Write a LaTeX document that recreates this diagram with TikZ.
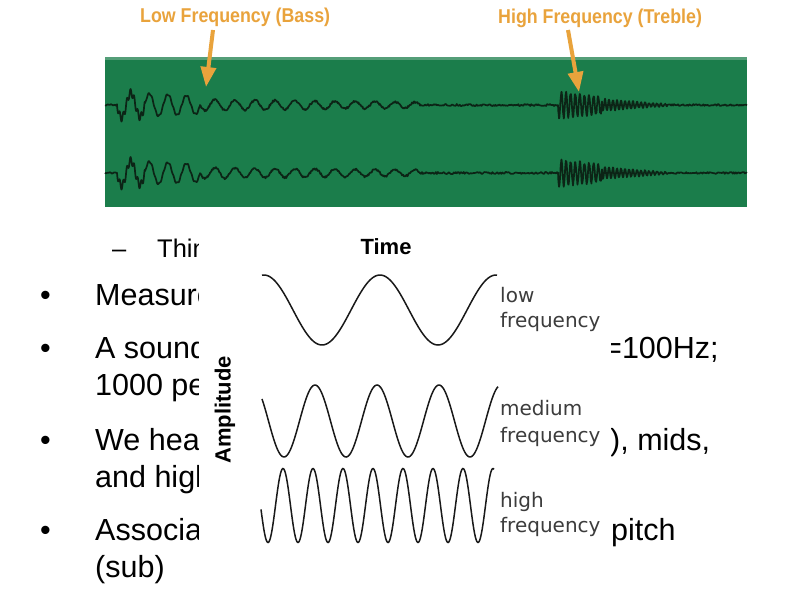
\documentclass[tikz,border=0pt]{standalone}
\usepackage{fontspec}
\setmainfont{Liberation Sans}
\newfontfamily\lblfont[FakeStretch=0.89]{Liberation Sans}
\newfontfamily\djv{DejaVu Sans}
\usetikzlibrary{arrows.meta}
\definecolor{bggreen}{RGB}{27,125,75}
\definecolor{wavecol}{RGB}{12,36,22}
\definecolor{lblorange}{RGB}{233,163,60}
\definecolor{sinecol}{RGB}{25,25,25}
\definecolor{capgray}{RGB}{60,60,60}
\begin{document}
\begin{tikzpicture}[x=1pt,y=-1pt,
 bodytext/.style={anchor=base west, inner sep=0pt, font=\fontsize{30.5}{37}\selectfont},
 subtext/.style={anchor=base west, inner sep=0pt, font=\fontsize{25.5}{30}\selectfont},
 toplabel/.style={anchor=base west, inner sep=0pt, text=lblorange, font=\lblfont\bfseries\fontsize{20}{24}\selectfont},
 pointer/.style={draw=lblorange, line width=4pt, -{Triangle[width=15pt,length=20pt]}},
 wavetrace/.style={draw=wavecol, line width=1.7pt, line join=round},
 sine/.style={draw=sinecol, line width=1.5pt},
 wavelbl/.style={anchor=base west, inner sep=0pt, text=capgray, font=\djv\fontsize{20}{24}\selectfont},
 axislbl/.style={inner sep=0pt, font=\bfseries\fontsize{22}{26}\selectfont}]
\useasboundingbox (0,0) rectangle (794,595);
\fill[white] (0,0) rectangle (794,595);
\pgfmathsetseed{3}

% top labels and pointers
\node[toplabel] (lowlbl) at (140,22) {Low Frequency (Bass)};
\node[toplabel] (highlbl) at (498,23) {High Frequency (Treble)};

% green recording panel
\fill[bggreen] (105,57) rectangle (747,207);
\fill[bggreen!75!white] (105,57) rectangle (747,59.5);

\foreach \yy in {105,173}{
 \draw[wavetrace] plot[domain=105:117,samples=13] (\x,{\yy+0.8*rand})
 -- plot[domain=117:200,samples=220] (\x,{\yy+(13-0.05*(\x-117))*sin((\x-117)/18.5*360)+(0.8+3*(\x<145))*sin((\x-117)/3.6*360)})
 -- plot[domain=200:420,samples=330] (\x,{\yy+(5.5-0.012*(\x-200))*sin((\x-200)/20*360)+1.0*rand})
 -- plot[domain=420:558,samples=140] (\x,{\yy+1.0*rand})
 -- plot[domain=558:602,samples=130] (\x,{\yy+(13-0.1*(\x-558))*sin((\x-558)/4.6*360)+1.5*rand})
 -- plot[domain=602:667,samples=150] (\x,{\yy+(6-0.08*(\x-602))*sin((\x-602)/4*360)+0.6*rand})
 -- plot[domain=667:747,samples=80] (\x,{\yy+0.9*rand});
}

\coordinate (lowtail) at (213,30);
\coordinate (lowtip) at (206,87);
\coordinate (hightail) at (568,30);
\coordinate (hightip) at (579,92);
\draw[pointer] (lowtail) -- (lowtip);
\draw[pointer] (hightail) -- (hightip);

% slide text
\node[subtext] (dash) at (112,257) {–};
\node[subtext] (thi) at (157,257) {Thin};
\node[bodytext] (bA) at (40,305) {•};
\node[bodytext] (tA) at (95,305) {Measure};
\node[bodytext] (bB) at (40,358) {•};
\node[bodytext] (tB) at (95,358) {A sound};
\node[bodytext] (tB2) at (95,395) {1000 per};
\node[bodytext] (bC) at (40,450) {•};
\node[bodytext] (tC) at (95,450) {We hear};
\node[bodytext] (tC2) at (95,487) {and high};
\node[bodytext] (bD) at (40,540) {•};
\node[bodytext] (tD) at (95,540) {Associated};
\node[bodytext] (tD2) at (95,577) {(sub)};
\node[bodytext] (rB) at (604,358) {=100Hz;};
\node[bodytext] (rC) at (610,450) {), mids,};
\node[bodytext] (rD) at (611,540) {pitch};

% overlaid frequency figure
\fill[white] (199,228) rectangle (611,558);
\node[axislbl] (timelbl) at (386,247) {Time};
\node[axislbl, rotate=90] (amplbl) at (225,410) {Amplitude};
\draw[sine] plot[domain=262:497,samples=160] (\x,{310-35*cos((\x-264)/116*360)});
\draw[sine] plot[domain=262:498,samples=200] (\x,{421-36*cos((\x-315)/62*360)});
\draw[sine] plot[domain=261:494,samples=300] (\x,{505.5-37*cos((\x-283)/30*360)});
\node[wavelbl] (lowa) at (500,302) {low};
\node[wavelbl] (lowb) at (500,327) {frequency};
\node[wavelbl] (meda) at (500,415) {medium};
\node[wavelbl] (medb) at (500,442) {frequency};
\node[wavelbl] (higha) at (500,507) {high};
\node[wavelbl] (highb) at (500,532) {frequency};
\end{tikzpicture}
\end{document}
